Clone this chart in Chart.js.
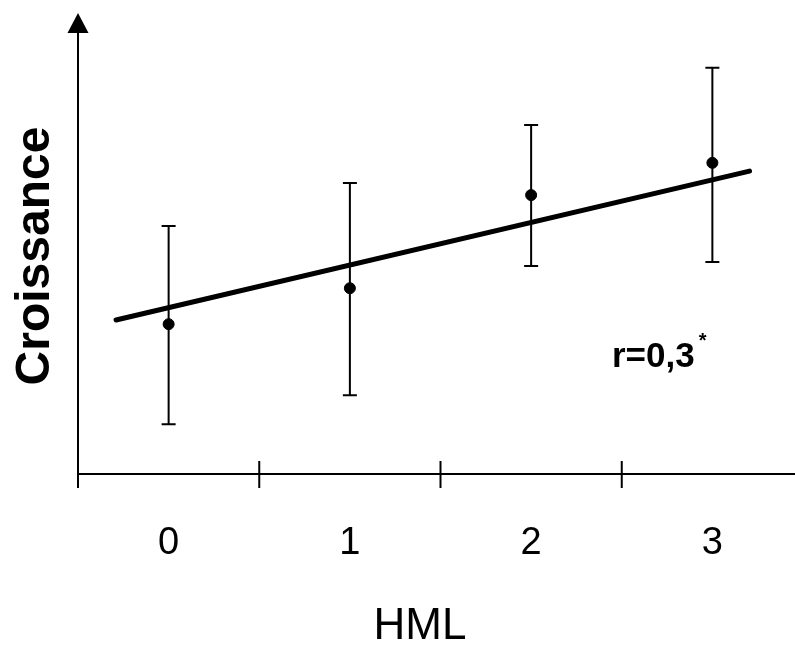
<!DOCTYPE html>
<html>
<head>
<meta charset="utf-8">
<script src="https://cdn.jsdelivr.net/npm/chart.js@4"></script>
<style>
  html, body { margin: 0; padding: 0; background: #fff; }
  #wrap { width: 795px; height: 648px; }
</style>
</head>
<body>
<div id="wrap"><canvas id="chart" width="795" height="648"></canvas></div>
<script>
// Donnees
const categories = ['0', '1', '2', '3'];
const xPositions = [0, 1, 2, 3];
const moyennes = [32.5, 40.3, 60.5, 67.5];
const erreurHaut = [53.8, 63.1, 75.7, 88.1];
const erreurBas = [10.8, 17.1, 45.1, 46.0];
// droite de regression (extremites)
const regX = [-0.29, 3.205];
const regY = [33.4, 65.7];
const tickSeparateurs = [-0.5, 0.5, 1.5, 2.5];
const titreX = 'HML';
const titreY = 'Croissance';
const annotation = 'r=0,3';

const FONT = '"Liberation Sans", Arial, sans-serif';

// Axes, barres d'erreur et textes
const decorPlugin = {
    id: 'decor',
    beforeDatasetsDraw(chart) {
        const ctx = chart.ctx;
        const xs = chart.scales.x;
        const ys = chart.scales.y;
        const y0 = ys.getPixelForValue(0);
        const left = xs.getPixelForValue(-0.5);

        ctx.save();
        ctx.strokeStyle = '#000';
        ctx.fillStyle = '#000';
        ctx.lineWidth = 2;

        // axe x
        ctx.beginPath();
        ctx.moveTo(left, y0);
        ctx.lineTo(chart.width, y0);
        ctx.stroke();

        // axe y
        ctx.beginPath();
        ctx.moveTo(left, y0);
        ctx.lineTo(left, ys.getPixelForValue(96));
        ctx.stroke();

        // fleche
        const tip = ys.getPixelForValue(100);
        ctx.beginPath();
        ctx.moveTo(left, tip);
        ctx.lineTo(left - 10.5, tip + 20);
        ctx.lineTo(left + 10.5, tip + 20);
        ctx.closePath();
        ctx.fill();

        // graduations
        tickSeparateurs.forEach(v => {
            const px = xs.getPixelForValue(v);
            ctx.beginPath();
            ctx.moveTo(px, y0 - 13);
            ctx.lineTo(px, y0 + 14);
            ctx.stroke();
        });

        // barres d'erreur
        xPositions.forEach((x, i) => {
            const px = xs.getPixelForValue(x);
            const yh = ys.getPixelForValue(erreurHaut[i]);
            const yb = ys.getPixelForValue(erreurBas[i]);
            ctx.beginPath();
            ctx.moveTo(px, yh);
            ctx.lineTo(px, yb);
            ctx.moveTo(px - 7, yh);
            ctx.lineTo(px + 7, yh);
            ctx.moveTo(px - 7, yb);
            ctx.lineTo(px + 7, yb);
            ctx.stroke();
        });

        // etiquettes de l'axe x
        ctx.font = '38px ' + FONT;
        ctx.textAlign = 'center';
        ctx.textBaseline = 'alphabetic';
        categories.forEach((lab, i) => {
            ctx.fillText(lab, xs.getPixelForValue(xPositions[i]), y0 + 80);
        });

        // titre x
        ctx.font = '44px ' + FONT;
        ctx.fillText(titreX, 420, 639);

        // titre y
        ctx.save();
        ctx.translate(49, 256);
        ctx.rotate(-Math.PI / 2);
        ctx.font = 'bold 48px ' + FONT;
        ctx.textAlign = 'center';
        ctx.fillText(titreY, 0, 0);
        ctx.restore();

        // coefficient de correlation
        ctx.font = 'bold 35px ' + FONT;
        ctx.textAlign = 'left';
        ctx.fillText(annotation, 612, 367);
        const w = ctx.measureText(annotation).width;
        ctx.font = 'bold 20px ' + FONT;
        ctx.fillText('*', 612 + w + 4, 347);

        ctx.restore();
    }
};

const ctx = document.getElementById('chart').getContext('2d');
new Chart(ctx, {
    type: 'scatter',
    data: {
        datasets: [
            {
                label: 'Regression',
                type: 'line',
                data: regX.map((x, i) => ({ x: x, y: regY[i] })),
                borderColor: '#000',
                borderWidth: 5,
                borderCapStyle: 'round',
                pointRadius: 0,
                fill: false
            },
            {
                label: 'Moyennes',
                data: xPositions.map((x, i) => ({ x: x, y: moyennes[i] })),
                backgroundColor: '#000',
                borderColor: '#000',
                pointRadius: 5.5,
                pointHoverRadius: 5.5
            }
        ]
    },
    options: {
        responsive: false,
        animation: false,
        events: [],
        layout: { padding: { left: 78, right: 0, top: 13, bottom: 174 } },
        scales: {
            x: { type: 'linear', min: -0.5, max: 3.42, display: false },
            y: { type: 'linear', min: 0, max: 100, display: false }
        },
        plugins: {
            legend: { display: false },
            tooltip: { enabled: false }
        }
    },
    plugins: [decorPlugin]
});
</script>
</body>
</html>
